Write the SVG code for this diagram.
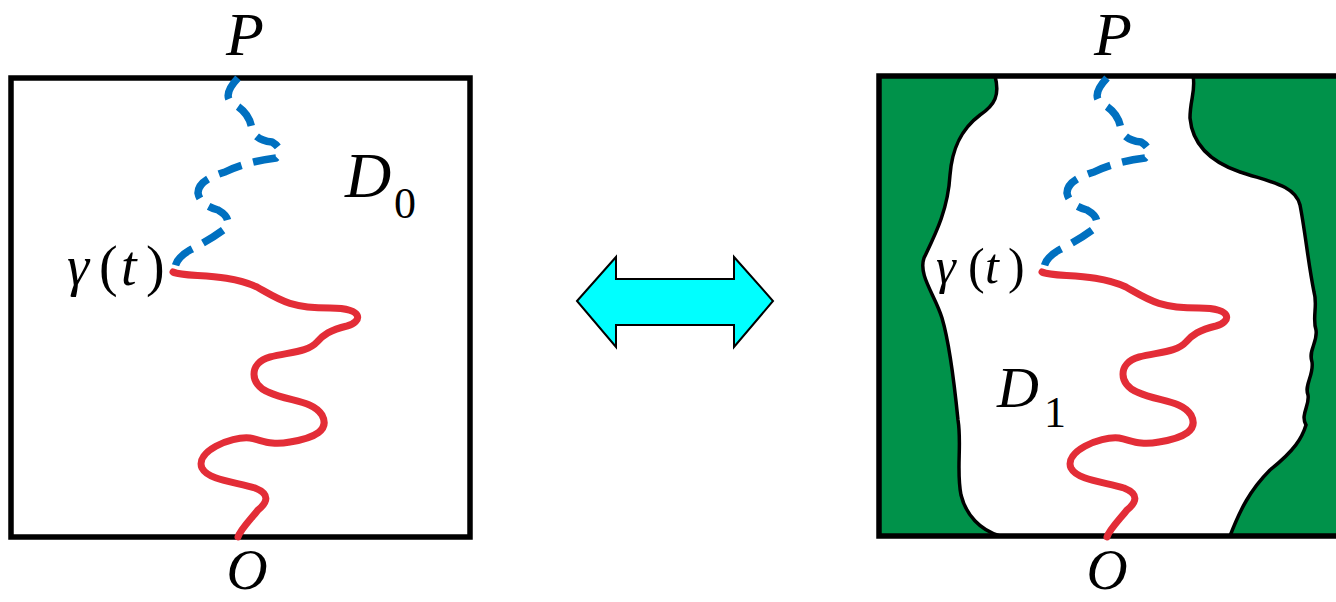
<svg xmlns="http://www.w3.org/2000/svg" width="1336" height="602" viewBox="0 0 1336 602">
<style>
.lbl{font-family:'Liberation Serif','Times New Roman',serif;font-style:italic;fill:#000}
.up{font-style:normal}
.red{fill:none;stroke:#E32D37;stroke-width:7;stroke-linecap:round;stroke-linejoin:round}
.blue{fill:none;stroke:#0070C0;stroke-width:7.5;stroke-dasharray:24 12;stroke-linecap:butt}
.frame{stroke:#000;stroke-width:5.5}
</style>
<defs>
<path id="redPath" d="M173,272 C185,278 225,272 257,287 C280,300 290,308 330,308 C365,308 362,322 347,326 C330,330 323,335 317,342 C308,352 290,352 270,357 C248,363 250,385 268,392 C290,402 312,400 322,415 C330,430 315,438 290,442 C270,446 262,440 250,438 C230,436 195,452 202,468 C208,480 235,482 255,488 C270,494 268,502 258,510 C250,520 240,530 238,537"/>
<path id="bluePath" d="M238,78 Q222,95 232,103 Q250,112 252,130 Q256,140 272,142 Q285,150 276,158 Q245,162 225,172 Q198,180 198,193 Q200,205 218,210 Q232,218 226,228 Q210,240 190,250 Q176,258 175,268"/>
</defs>

<g id="left-panel">
  <rect id="D0-box" class="frame" x="11" y="78" width="459" height="459" fill="#fff"/>
  <g id="left-curves">
    <use href="#redPath" class="red"/>
    <use href="#bluePath" class="blue"/>
  </g>
  <text class="lbl" x="245" y="55" font-size="62" text-anchor="middle">P</text>
  <text class="lbl" x="247" y="589" font-size="57" text-anchor="middle">O</text>
  <text class="lbl" font-size="56" y="285"><tspan x="67">γ</tspan><tspan class="up" x="99">(</tspan><tspan x="121">t</tspan><tspan class="up" x="146">)</tspan></text>
  <text class="lbl" y="197" font-size="64"><tspan x="345">D</tspan><tspan class="up" x="394" y="218" font-size="44">0</tspan></text>
</g>

<g id="arrow">
  <polygon points="577,301 616,257 616,279 734,279 734,257 773,301 734,347 734,325 616,325 616,347" fill="#00FFFF" stroke="#000" stroke-width="2" stroke-linejoin="miter"/>
</g>

<g id="right-panel">
  <rect id="green-box" x="879" y="76" width="470" height="460" fill="#00924A"/>
  <path id="D1-region" fill="#fff" stroke="#000" stroke-width="3.5" d="M995,76 C1000,95 995,105 980,115 C960,130 952,150 950,175 C948,210 935,235 924,258 C918,275 935,295 942,318 C950,345 955,390 958,420 C962,445 956,470 961,495 C966,515 980,530 1000,536 L1230,536 C1240,510 1250,490 1270,470 C1295,450 1302,438 1306,425 C1300,415 1310,405 1308,395 C1304,385 1314,375 1312,362 C1308,350 1318,342 1316,330 C1312,318 1318,305 1314,292 C1308,262 1305,230 1300,205 C1295,185 1270,182 1240,172 C1205,160 1192,140 1190,118 C1190,100 1196,90 1193,76 Z"/>
  <path id="right-frame" fill="none" class="frame" d="M1340,76 L879,76 L879,536 L1340,536"/>
  <g id="right-curves" transform="translate(869,0)">
    <use href="#redPath" class="red"/>
    <use href="#bluePath" class="blue"/>
  </g>
  <text class="lbl" x="1113" y="55" font-size="62" text-anchor="middle">P</text>
  <text class="lbl" x="1107" y="589" font-size="57" text-anchor="middle">O</text>
  <text class="lbl" font-size="50" y="283"><tspan x="936">γ</tspan><tspan class="up" x="968">(</tspan><tspan x="985">t</tspan><tspan class="up" x="1008">)</tspan></text>
  <text class="lbl" y="407" font-size="58"><tspan x="997">D</tspan><tspan class="up" x="1044" y="427" font-size="44">1</tspan></text>
</g>
</svg>
